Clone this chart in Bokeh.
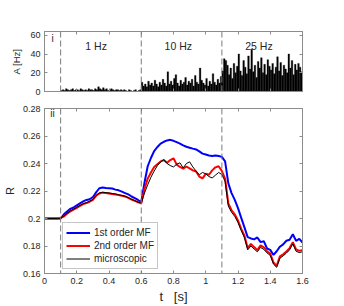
import numpy as np
from bokeh.plotting import figure
from bokeh.models import (Span, Label, Legend, LegendItem, LinearAxis, FixedTicker,
                          CustomJSTickFormatter, Range1d, ColumnDataSource)
from bokeh.layouts import column
from bokeh.embed import file_html
from bokeh.resources import INLINE

# ---------------- data ----------------
# population activity A(t) in 10 ms bins, 0 .. 1.6 s
A_quiet = [0] * 10
A_1hz = [1, 2, 1, 3, 2, 1, 2, 3, 1, 2, 2, 1, 3, 2, 1, 2, 1, 3, 2, 2,
         1, 3, 2, 5, 3, 2, 4, 2, 3, 1, 2, 3, 2, 1, 2, 2, 1, 2, 1, 2,
         1, 0, 2, 1, 0, 1, 2, 0, 1, 2]
A_10hz = [10, 6, 8, 5, 11, 7, 9, 6, 12, 8, 5, 10, 7, 13, 9, 6, 21, 8, 11, 7,
          14, 18, 9, 6, 12, 8, 10, 15, 7, 11, 9, 13, 6, 17, 10, 8, 25, 12, 9, 7,
          14, 6, 11, 8, 19, 10, 7, 13, 9, 16]
A_25hz = [22, 35, 33, 28, 18, 25, 14, 30, 20, 27, 40, 22, 17, 33, 26, 19, 38, 24, 45, 21,
          28, 15, 32, 25, 36, 20, 29, 18, 34, 27, 23, 30, 19, 26, 37, 22, 31, 17, 28, 24,
          20, 40, 25, 33, 18, 29, 23, 30, 26, 21]
A_vals = A_quiet + A_1hz + A_10hz + A_25hz
bin_width = 0.01
A_t = [round(0.005 + i * bin_width, 3) for i in range(len(A_vals))]

# order parameter R(t), sampled every 20 ms
t_R = [round(i * 0.02, 2) for i in range(81)]
R_mf1 = [0.2000, 0.2000, 0.2000, 0.2000, 0.2000, 0.2000,
         0.2030, 0.2050, 0.2070, 0.2080, 0.2095, 0.2110, 0.2125, 0.2135, 0.2140, 0.2155,
         0.2190, 0.2220, 0.2225, 0.2222, 0.2220, 0.2218, 0.2210, 0.2205, 0.2195, 0.2185,
         0.2175, 0.2160, 0.2148, 0.2135, 0.2118,
         0.2260, 0.2380, 0.2440, 0.2490, 0.2520, 0.2545, 0.2558, 0.2568, 0.2572, 0.2565,
         0.2555, 0.2545, 0.2532, 0.2522, 0.2515, 0.2508, 0.2502, 0.2488, 0.2472, 0.2465,
         0.2458, 0.2455, 0.2458, 0.2455, 0.2448,
         0.2415, 0.2255, 0.2185, 0.2135, 0.2075, 0.2005, 0.1935, 0.1865, 0.1855, 0.1848,
         0.1862, 0.1828, 0.1835, 0.1782, 0.1772, 0.1735, 0.1762, 0.1795, 0.1812, 0.1838,
         0.1845, 0.1885, 0.1838, 0.1852, 0.1825]
R_mf2 = [0.2000, 0.2000, 0.2000, 0.2000, 0.2000, 0.2002,
         0.2015, 0.2035, 0.2052, 0.2065, 0.2078, 0.2092, 0.2105, 0.2112, 0.2122, 0.2135,
         0.2165, 0.2182, 0.2188, 0.2185, 0.2182, 0.2178, 0.2175, 0.2170, 0.2165, 0.2160,
         0.2150, 0.2138, 0.2128, 0.2118, 0.2110,
         0.2215, 0.2290, 0.2335, 0.2375, 0.2395, 0.2415, 0.2425, 0.2405, 0.2425, 0.2438,
         0.2392, 0.2375, 0.2362, 0.2378, 0.2365, 0.2350, 0.2342, 0.2305, 0.2292, 0.2325,
         0.2318, 0.2350, 0.2372, 0.2380, 0.2345,
         0.2290, 0.2110, 0.2060, 0.2030, 0.1985, 0.1925, 0.1875, 0.1785, 0.1815, 0.1792,
         0.1770, 0.1805, 0.1790, 0.1762, 0.1745, 0.1680, 0.1655, 0.1725, 0.1740, 0.1760,
         0.1785, 0.1828, 0.1775, 0.1765, 0.1770]
R_micro = [0.2000, 0.2000, 0.2000, 0.2000, 0.2000, 0.2002,
           0.2018, 0.2038, 0.2055, 0.2068, 0.2082, 0.2095, 0.2108, 0.2116, 0.2126, 0.2138,
           0.2168, 0.2186, 0.2191, 0.2188, 0.2186, 0.2182, 0.2179, 0.2173, 0.2168, 0.2162,
           0.2152, 0.2140, 0.2130, 0.2120, 0.2112,
           0.2185, 0.2245, 0.2300, 0.2345, 0.2385, 0.2410, 0.2428, 0.2400, 0.2385, 0.2375,
           0.2395, 0.2405, 0.2368, 0.2400, 0.2412, 0.2375, 0.2345, 0.2318, 0.2335, 0.2325,
           0.2305, 0.2295, 0.2315, 0.2335, 0.2320,
           0.2270, 0.2090, 0.2045, 0.2015, 0.1970, 0.1912, 0.1860, 0.1772, 0.1800, 0.1778,
           0.1758, 0.1790, 0.1775, 0.1750, 0.1732, 0.1668, 0.1645, 0.1712, 0.1728, 0.1748,
           0.1772, 0.1815, 0.1762, 0.1752, 0.1758]

stim_onsets = [0.1, 0.6, 1.1]
rate_labels = ["1 Hz", "10 Hz", "25 Hz"]
rate_label_t = [0.32, 0.83, 1.33]
x_ticks = [0, 0.2, 0.4, 0.6, 0.8, 1, 1.2, 1.4, 1.6]
A_ticks = [0, 20, 40, 60]
R_ticks = [0.16, 0.18, 0.2, 0.22, 0.24, 0.26, 0.28]
legend_labels = ["1st order MF", "2nd order MF", "microscopic"]
x_label = "t\u00a0\u00a0\u00a0[s]"

# ---------------- style ----------------
FONT = "Liberation Sans"
AX = "#8c8c8c"
TXT = "#262626"
W = 344
ML, MR = 41, 42
NUMFMT = CustomJSTickFormatter(code="return String(Math.round(tick*100)/100)")
BLANK = CustomJSTickFormatter(code="return ''")


def make_axis(ticks, labels, label_text=None, label_size="11px", label_standoff=4):
    ax = LinearAxis(ticker=FixedTicker(ticks=ticks))
    ax.axis_line_color = AX
    ax.major_tick_line_color = AX
    ax.minor_tick_line_color = None
    ax.major_tick_in = 3
    ax.major_tick_out = 0
    ax.major_label_text_font = FONT
    ax.major_label_text_font_size = "9px"
    ax.major_label_text_color = TXT
    if labels:
        ax.formatter = NUMFMT
        ax.major_label_standoff = 4
    else:
        ax.formatter = BLANK
        ax.major_label_standoff = 0
    if label_text:
        ax.axis_label = label_text
        ax.axis_label_text_font = FONT
        ax.axis_label_text_font_size = label_size
        ax.axis_label_text_font_style = "normal"
        ax.axis_label_text_color = TXT
        ax.axis_label_standoff = label_standoff
    return ax


def frame(p, y_ticks, y_text, y_lab_size, y_standoff, xticks_shown, x_lab_text=None):
    p.outline_line_color = AX
    p.add_layout(make_axis(x_ticks, xticks_shown, x_lab_text, "13px", 2), "below")
    p.add_layout(make_axis(y_ticks, True, y_text, y_lab_size, y_standoff), "left")
    p.add_layout(make_axis(x_ticks, False), "above")
    p.add_layout(make_axis(y_ticks, False), "right")
    for s in stim_onsets:
        p.add_layout(Span(location=s, dimension="height", line_color="#7a7a7a",
                          line_dash="6 3", line_width=1))


# ---------------- panel i ----------------
p1 = figure(width=W, height=103, x_range=Range1d(0, 1.6), y_range=Range1d(0, 64),
            x_axis_type=None, y_axis_type=None,
            min_border_left=ML, min_border_right=MR, min_border_top=31, min_border_bottom=12,
            toolbar_location=None, output_backend="svg")
p1.xgrid.visible = False
p1.ygrid.visible = False
frame(p1, A_ticks, "A [Hz]", "9.5px", 5, False)
p1.vbar(x=A_t, top=A_vals, width=bin_width, fill_color="black", line_color="black",
        line_width=0.3)
for lab, tx in zip(rate_labels, rate_label_t):
    p1.add_layout(Label(x=tx, y=49, text=lab, text_align="center", text_baseline="middle",
                        text_font=FONT, text_font_size="10.5px", text_color=TXT))
p1.add_layout(Label(x=8, y=53, x_units="screen", y_units="screen", text="i",
                    text_align="center", text_baseline="middle", text_font=FONT,
                    text_font_size="10px", text_color=TXT))

# ---------------- panel ii ----------------
p2 = figure(width=W, height=203, x_range=Range1d(0, 1.6), y_range=Range1d(0.16, 0.28),
            x_axis_type=None, y_axis_type=None,
            min_border_left=ML, min_border_right=MR, min_border_top=5, min_border_bottom=31,
            toolbar_location=None, output_backend="svg")
p2.xgrid.visible = False
p2.ygrid.visible = False
frame(p2, R_ticks, "R", "11px", 4, True, x_label)
src = ColumnDataSource(dict(t=t_R, mf1=R_mf1, mf2=R_mf2, micro=R_micro))
rb = p2.line("t", "mf1", source=src, line_color="#0000ff", line_width=2)
rr = p2.line("t", "mf2", source=src, line_color="#ff0000", line_width=2)
rk = p2.line("t", "micro", source=src, line_color="black", line_width=1)

legend = Legend(items=[LegendItem(label=legend_labels[0], renderers=[rb]),
                       LegendItem(label=legend_labels[1], renderers=[rr]),
                       LegendItem(label=legend_labels[2], renderers=[rk])],
                location=(18, 4), glyph_width=24, glyph_height=13, label_height=13,
                label_text_font=FONT, label_text_font_size="10px", label_text_color=TXT,
                label_standoff=4, padding=3, spacing=0, margin=0,
                border_line_color=AX, background_fill_color="white", background_fill_alpha=1)
p2.add_layout(legend)

p2.add_layout(Label(x=8, y=160, x_units="screen", y_units="screen", text="ii",
                    text_align="center", text_baseline="middle", text_font=FONT,
                    text_font_size="10px", text_color=TXT))

layout = column(p1, p2)
open("out.html", "w").write(file_html(layout, INLINE))
